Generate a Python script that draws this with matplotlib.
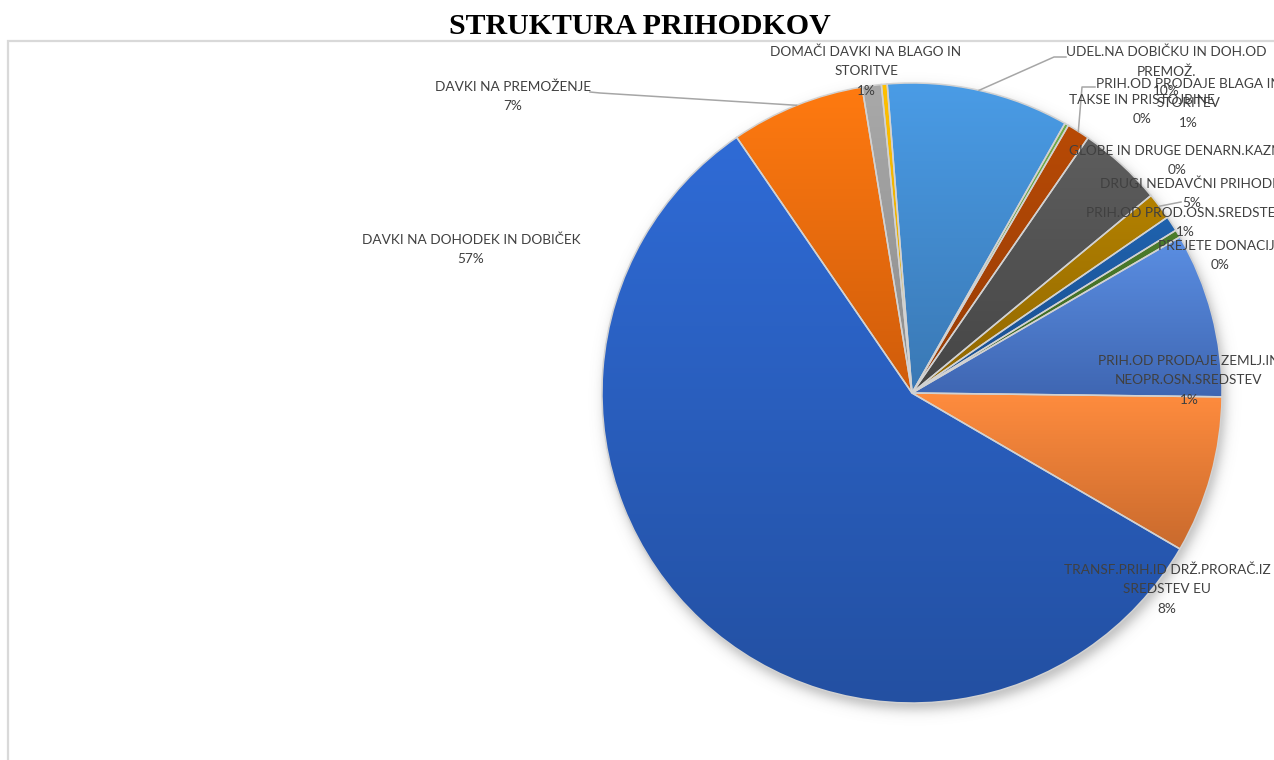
import numpy as np
import matplotlib
matplotlib.use("Agg")
import matplotlib.pyplot as plt
from matplotlib.colors import to_rgb

# ---------------- data ----------------
slice_values = [57.1, 7.0, 1.0, 0.3, 9.5, 0.2, 1.2, 4.4, 1.4, 0.8, 0.4, 8.6, 8.2]
slice_colors_top = ['#2F6BD6', '#FF7A10', '#A9A9A9', '#FFC000', '#4A9CE6', '#70AD47',
                    '#B84A06', '#5E5E5E', '#B38100', '#1F62AE', '#4C7D2C', '#5B8FE3', '#FF8C3E']
slice_colors_bottom = ['#2350A2', '#CF5C0B', '#8C8C8C', '#D9A300', '#3A78B4', '#5A8F38',
                       '#963C05', '#454545', '#8F6600', '#1A4E8C', '#3B6322', '#3F66B2', '#C96A2D']

label_names = [
    "DAVKI NA DOHODEK IN DOBIČEK",
    "DAVKI NA PREMOŽENJE",
    "DOMAČI DAVKI NA BLAGO IN\nSTORITVE",
    "UDEL.NA DOBIČKU IN DOH.OD\nPREMOŽ.",
    "TAKSE IN PRISTOJBINE",
    "PRIH.OD PRODAJE BLAGA IN\nSTORITEV",
    "GLOBE IN DRUGE DENARN.KAZNI",
    "DRUGI NEDAVČNI PRIHODKI",
    "PRIH.OD PROD.OSN.SREDSTEV",
    "PREJETE DONACIJE",
    "PRIH.OD PRODAJE ZEMLJ.IN\nNEOPR.OSN.SREDSTEV",
    "TRANSF.PRIH.ID DRŽ.PRORAČ.IZ\nSREDSTEV EU",
]
label_pcts = ["57%", "7%", "1%", "10%", "0%", "1%", "0%", "5%", "1%", "0%", "1%", "8%"]

title = "STRUKTURA PRIHODKOV"

# ---------------- layout ----------------
W, H = 1274, 760
CX, CY, R = 912, 393, 310
START = 30.2  # first slice starts at 120.2 deg clockwise from 12 o'clock

# label block: (x centre, y of first line) in pixels
label_pos = [(471, 240), (513, 87), (866, 52), (1166, 52), (1142, 100), (1188, 84),
             (1177, 151), (1192, 184), (1185, 213), (1220, 246), (1189, 361), (1167, 570)]
LINE_STEP = 19.3
# leader lines: label index -> (slice index, elbow points)
leaders = {
    1: (1, [(590, 92), (600, 93)]),
    3: (4, [(1066, 57), (1054, 57)]),
    5: (6, [(1095, 87), (1082, 87)]),
    7: (8, [(1181, 202)]),
}

fig = plt.figure(figsize=(W / 100, H / 100), dpi=100)
ax = fig.add_axes([0, 0, 1, 1])

# shadow behind pie
gx = np.arange(CX - R - 40, CX + R + 40)
gy = np.arange(CY - R - 40, CY + R + 40)
XX, YY = np.meshgrid(gx, gy)
d = np.hypot(XX - (CX + 3), YY - (CY + 6))
alpha = 0.40 / (1 + np.exp((d - (R + 1)) / 3.5))
sh = np.zeros(XX.shape + (4,))
sh[..., :3] = 0.35
sh[..., 3] = alpha
ax.imshow(sh, extent=(gx[0], gx[-1], gy[-1], gy[0]), origin='upper',
          interpolation='bilinear', aspect='auto', zorder=0.5)

wedges, _ = ax.pie(slice_values, startangle=START, counterclock=True,
                   center=(CX, CY), radius=R, colors=slice_colors_top, frame=True,
                   wedgeprops=dict(edgecolor='#d2d2d2', linewidth=1.1))

g = np.linspace(0, 1, 256)[:, None, None]
for w, ct, cb in zip(wedges, slice_colors_top, slice_colors_bottom):
    ext = w.get_path().get_extents()
    c0 = np.array(to_rgb(ct))[None, None, :]
    c1 = np.array(to_rgb(cb))[None, None, :]
    img = c0 * (1 - g) + c1 * g
    im = ax.imshow(img, extent=(ext.x0, ext.x1, ext.y1, ext.y0), origin='upper',
                   aspect='auto', interpolation='bilinear', zorder=1)
    im.set_clip_path(w)
    w.set_facecolor('none')
    w.set_zorder(2)

ax.set_xlim(0, W)
ax.set_ylim(H, 0)
ax.set_aspect('auto')
ax.axis('off')

# frame
ax.plot([8, 8, W + 5], [H + 5, 41, 41], color='#d9d9d9', lw=1.6, zorder=0.2,
        solid_joinstyle='miter', clip_on=False)

# leader lines
for li, (si, pts) in leaders.items():
    w = wedges[si]
    mid = np.deg2rad((w.theta1 + w.theta2) / 2)
    ex, ey = CX + R * np.cos(mid), CY + R * np.sin(mid)
    xs = [p[0] for p in pts] + [ex]
    ys = [p[1] for p in pts] + [ey]
    ax.plot(xs, ys, color='#a6a6a6', lw=1.1, zorder=3)

# labels
for name, pct, (x, y) in zip(label_names, label_pcts, label_pos):
    lines = name.split("\n") + [pct]
    for i, ln in enumerate(lines):
        ax.text(x, y + i * LINE_STEP, ln, ha='center', va='center', fontsize=9.8,
                family=['Lato', 'DejaVu Sans'], color='#404040', zorder=4)

fig.text(640 / W, 1 - 26 / H, title, ha='center', va='center', fontsize=21.5,
         family='Liberation Serif', fontweight='bold', color='black')

fig.savefig('out.png', dpi=100)
